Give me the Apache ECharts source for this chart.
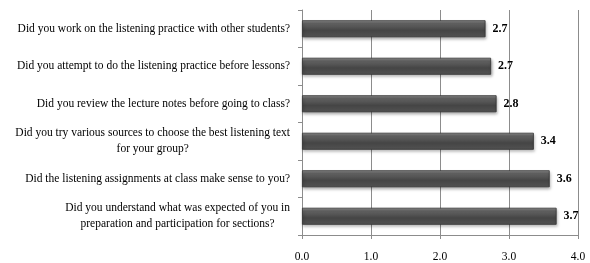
<!DOCTYPE html>
<html><head><meta charset="utf-8">
<script src="https://cdn.jsdelivr.net/npm/echarts@6/dist/echarts.min.js"></script>
<style>html,body{margin:0;padding:0;background:#fff}#c{width:590px;height:263px}</style>
</head><body><div id="c"></div>
<script>
const categories = [
  "Did you work on the listening practice with other students?",
  "Did you attempt to do the listening practice before lessons?",
  "Did you review the lecture notes before going to class?",
  "Did you try various sources to choose the best listening text\nfor your group?",
  "Did the listening assignments at class make sense to you?",
  "Did you understand what was expected of you in\npreparation and participation for sections?"
];
const values = [2.66, 2.74, 2.82, 3.36, 3.59, 3.69];
const xTicks = [0, 1, 2, 3, 4];

const chart = echarts.init(document.getElementById('c'));
chart.setOption({
  animation: false,
  grid: {left: 302, right: 12, top: 10, bottom: 27},
  xAxis: {
    type: 'value', min: 0, max: 4, interval: 1,
    axisLine: {show: true, lineStyle: {color: '#8c8c8c'}},
    axisTick: {show: true, length: 4, lineStyle: {color: '#8c8c8c'}},
    splitLine: {show: true, lineStyle: {color: '#8c8c8c', width: 1}},
    axisLabel: {fontFamily: 'Liberation Serif', fontSize: 11.5, color: '#000', margin: 16,
      formatter: v => xTicks.includes(v) ? v.toFixed(1) : ''}
  },
  yAxis: {
    type: 'category', inverse: true, data: categories,
    axisLine: {show: true, lineStyle: {color: '#8c8c8c'}},
    axisTick: {show: true, length: 4, lineStyle: {color: '#8c8c8c'}},
    axisLabel: {
      margin: 12, fontFamily: 'Liberation Serif', fontSize: 11.5, color: '#000',
      formatter: s => s.split('\n').map(l => '{c|' + l + '}').join('\n'),
      rich: {c: {align: 'center', fontFamily: 'Liberation Serif', fontSize: 11.5, color: '#000', lineHeight: 16}}
    }
  },
  series: [{
    type: 'bar', data: values, barWidth: 17,
    itemStyle: {
      color: new echarts.graphic.LinearGradient(0, 0, 0, 1, [
        {offset: 0, color: '#8e8e8e'},
        {offset: 0.2, color: '#636363'},
        {offset: 0.6, color: '#454545'},
        {offset: 1, color: '#525252'}
      ]),
      borderColor: '#333', borderWidth: 0.8,
      shadowColor: 'rgba(0,0,0,0.35)', shadowBlur: 3, shadowOffsetX: 1, shadowOffsetY: 2
    },
    label: {
      show: true, position: 'right', distance: 7,
      fontFamily: 'Liberation Serif', fontSize: 12, fontWeight: 'bold', color: '#000',
      formatter: p => p.value.toFixed(1)
    }
  }]
});
</script></body></html>
